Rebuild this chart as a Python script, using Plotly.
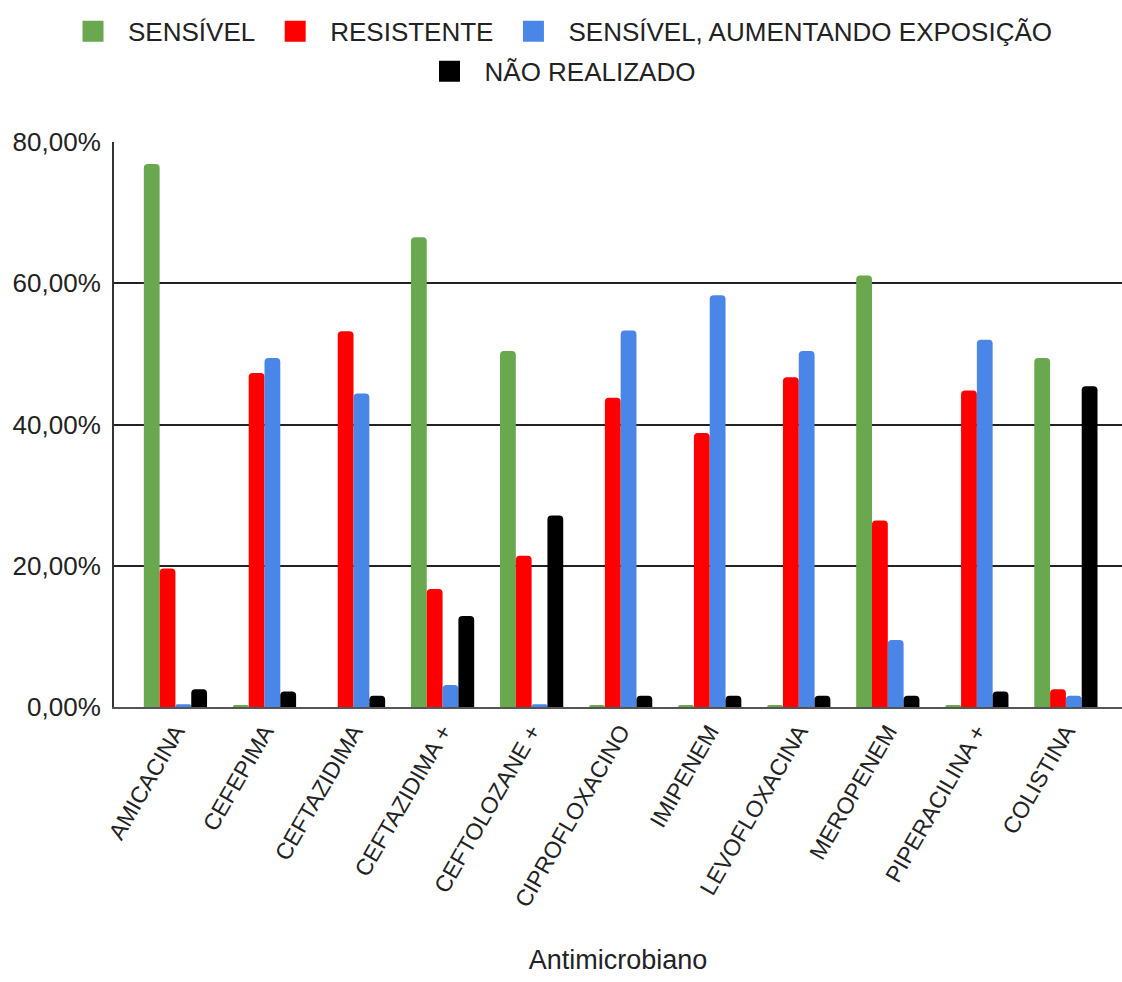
import plotly.graph_objects as go

categories = [
    "AMICACINA", "CEFEPIMA", "CEFTAZIDIMA", "CEFTAZIDIMA +", "CEFTOLOZANE +",
    "CIPROFLOXACINO", "IMIPENEM", "LEVOFLOXACINA", "MEROPENEM",
    "PIPERACILINA +", "COLISTINA",
]

sensivel = [76.9, 0.3, 0.0, 66.5, 50.4, 0.3, 0.3, 0.3, 61.1, 0.3, 49.4]
resistente = [19.6, 47.3, 53.2, 16.7, 21.4, 43.8, 38.8, 46.7, 26.4, 44.8, 2.5]
sensivel_aumentando = [0.4, 49.4, 44.4, 3.1, 0.4, 53.3, 58.3, 50.4, 9.5, 52.0, 1.6]
nao_realizado = [2.5, 2.2, 1.6, 12.9, 27.1, 1.6, 1.6, 1.6, 1.6, 2.2, 45.4]

series_names = ["SENSÍVEL", "RESISTENTE", "SENSÍVEL, AUMENTANDO EXPOSIÇÃO", "NÃO REALIZADO"]
series_values = [sensivel, resistente, sensivel_aumentando, nao_realizado]
series_colors = ["#6aa84f", "#ff0000", "#4a86e8", "#000000"]
legend_rows = ["legend", "legend", "legend", "legend2"]

y_ticks = [0, 20, 40, 60, 80]
y_tick_labels = ["0,00%", "20,00%", "40,00%", "60,00%", "80,00%"]

FONT = "Liberation Sans, Arial, sans-serif"
TEXT = "#222222"

fig = go.Figure()

for name, vals, color in zip(series_names, series_values, series_colors):
    fig.add_trace(go.Bar(
        x=categories, y=vals, name=name,
        marker=dict(color=color, line=dict(width=0)),
        showlegend=False,
    ))

# legend swatches: square markers with a same-colour outline to enlarge them,
# split over two centred rows
for name, color, lg in zip(series_names, series_colors, legend_rows):
    fig.add_trace(go.Scatter(
        x=[None], y=[None], mode="markers", name=name,
        marker=dict(symbol="square", size=16, color=color,
                    line=dict(color=color, width=5)),
        showlegend=True, legend=lg,
    ))

legend_style = dict(
    orientation="h", xanchor="center", yanchor="middle",
    font=dict(family=FONT, size=26, color=TEXT),
    itemwidth=60, bgcolor="rgba(0,0,0,0)",
)

fig.update_layout(
    width=1122, height=982,
    margin=dict(l=114, r=0, t=142, b=275),
    paper_bgcolor="white", plot_bgcolor="white",
    barmode="group", bargap=0.29, bargroupgap=0.0,
    barcornerradius=4,
    font=dict(family=FONT, size=26, color=TEXT),
    legend=dict(legend_style, x=0.44, y=1.196),
    legend2=dict(legend_style, x=0.44, y=1.125),
    xaxis=dict(
        type="category", categoryorder="array", categoryarray=categories,
        range=[-0.69, 10.63],
        tickangle=-60, tickfont=dict(family=FONT, size=23, color=TEXT),
        showline=True, linecolor="#555555", linewidth=2,
        showgrid=False, ticks="",
        title=dict(text="Antimicrobiano", font=dict(family=FONT, size=27, color=TEXT), standoff=40),
    ),
    yaxis=dict(
        range=[0, 80], tickvals=y_ticks, ticktext=y_tick_labels,
        tickfont=dict(family=FONT, size=26, color=TEXT),
        showgrid=True, gridcolor="#222222", gridwidth=2,
        zeroline=False,
        showline=True, linecolor="#333333", linewidth=2,
        ticks="", ticklabelstandoff=6,
    ),
)

fig.write_html("out.html")
